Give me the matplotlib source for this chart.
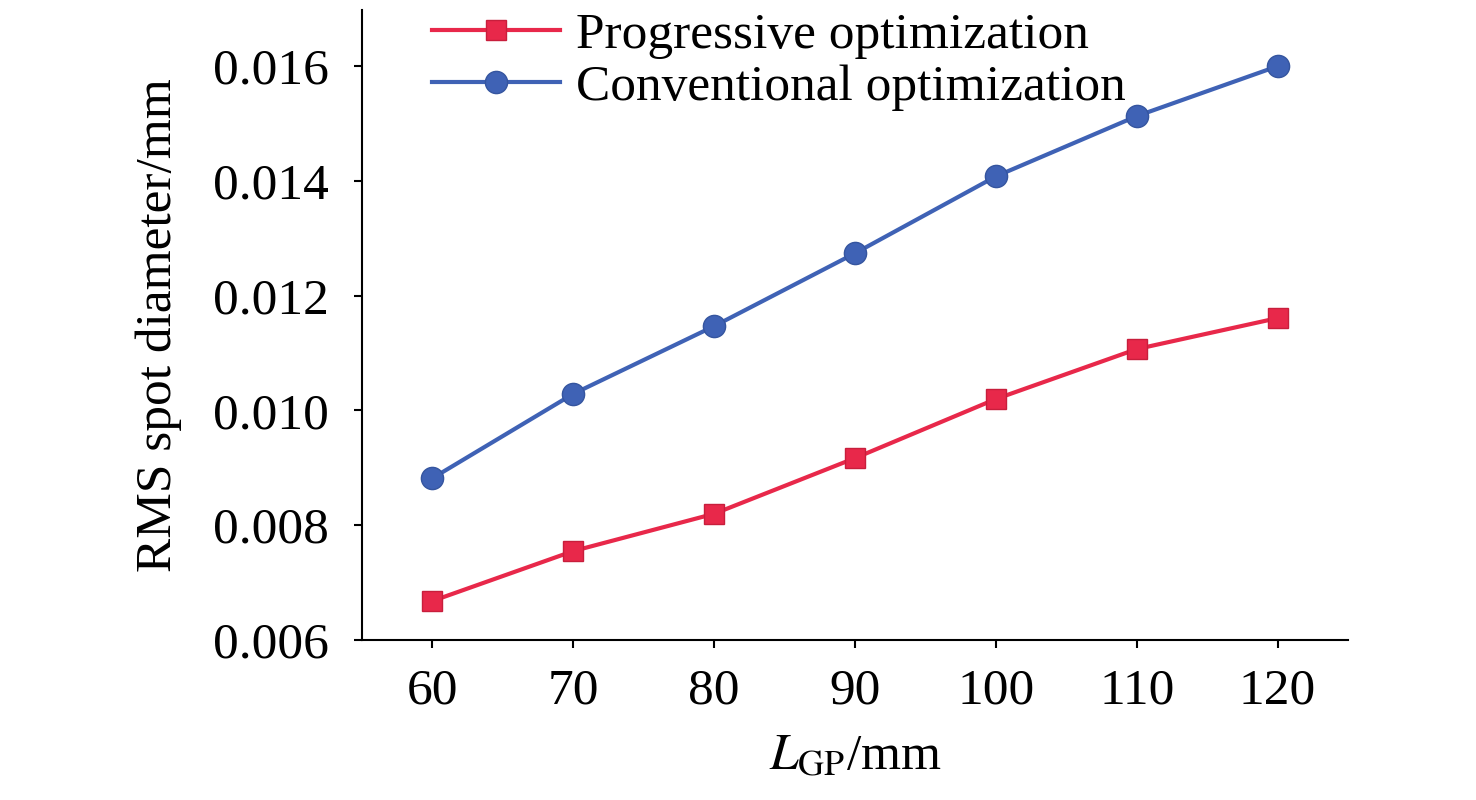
import matplotlib.pyplot as plt

plt.rcParams['font.family'] = ['Liberation Serif', 'DejaVu Serif']
plt.rcParams['mathtext.fontset'] = 'stix'

x_vals = [60, 70, 80, 90, 100, 110, 120]
progressive = [0.00668, 0.00755, 0.00820, 0.00917, 0.01020, 0.01107, 0.01161]
conventional = [0.00882, 0.01029, 0.01147, 0.01274, 0.01408, 0.01513, 0.01600]

fig = plt.figure(figsize=(14.76, 8), dpi=100)
ax = fig.add_axes([362 / 1476, 160 / 800, (1348 - 362) / 1476, (640 - 10) / 800])

ax.plot(x_vals, progressive, color='#e8284a', marker='s', markersize=15, lw=3,
        markeredgecolor='#c81e3c', label='Progressive optimization')
ax.plot(x_vals, conventional, color='#3f62b5', marker='o', markersize=16, lw=3,
        markeredgecolor='#35559f', label='Conventional optimization')

ax.set_xlim(55, 125)
ax.set_ylim(0.006, 0.01698)
ax.set_xticks(x_vals)
ax.set_yticks([0.006, 0.008, 0.010, 0.012, 0.014, 0.016])
ax.set_yticklabels(['0.006', '0.008', '0.010', '0.012', '0.014', '0.016'])
for s in ['top', 'right']:
    ax.spines[s].set_visible(False)
for s in ['left', 'bottom']:
    ax.spines[s].set_linewidth(1.5)
ax.tick_params(labelsize=37, width=1.5, length=6, direction='out')
ax.tick_params(axis='y', pad=18)
ax.tick_params(axis='x', pad=14)
ax.set_xlabel(r'$L_{\mathrm{GP}}$/mm', fontsize=37, labelpad=14)
ax.set_ylabel('RMS spot diameter/mm', fontsize=37, labelpad=22)

ax.legend(loc='upper left', bbox_to_anchor=(0.05, 1.03), frameon=False, fontsize=37,
          handlelength=2.5, handletextpad=0.3, labelspacing=0.1, borderaxespad=0)

fig.savefig('out.png', dpi=100)
